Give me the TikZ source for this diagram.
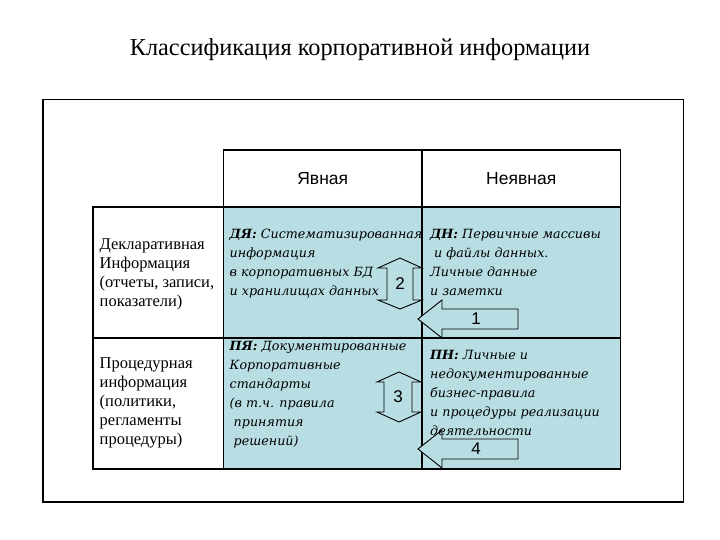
\documentclass[tikz,border=0pt]{standalone}
\usepackage{fontspec}
\setmainfont{Liberation Serif}
\setsansfont{Liberation Sans}
\newfontfamily\notefont{DejaVu Serif}
\usetikzlibrary{positioning,calc}
\definecolor{kiblue}{HTML}{B8DEE3}
\definecolor{kiink}{HTML}{000000}
\tikzset{
  hcell/.style={rectangle,draw=kiink,line width=1.2pt,fill=white,minimum width=198.5pt,
                minimum height=57pt,inner sep=0pt,outer sep=0pt,
                font=\sffamily\fontsize{17.5}{20}\selectfont,text=kiink},
  rcell/.style={rectangle,draw=kiink,line width=1.2pt,fill=white,minimum width=130.5pt,
                minimum height=131pt,inner sep=0pt,outer sep=0pt},
  bcell/.style={rectangle,draw=kiink,line width=1.2pt,fill=kiblue,minimum width=198.5pt,
                minimum height=131pt,inner sep=0pt,outer sep=0pt},
  rowtxt/.style={inner sep=0pt,align=left,font=\fontsize{16.5}{19}\selectfont,text=kiink},
  entry/.style={inner sep=0pt,align=left,font=\notefont\itshape\fontsize{12.7}{19}\selectfont,text=kiink},
  blk/.style={draw=kiink,line width=0.9pt,fill=kiblue,line join=miter},
  num/.style={inner sep=0pt,font=\sffamily\fontsize{17}{20}\selectfont,text=kiink},
}

\begin{document}
\begin{tikzpicture}[x=1pt,y=-1pt,
  title/.style={font=\fontsize{24.3}{28}\selectfont,text=kiink}]
  \useasboundingbox (0,0) rectangle (720,540);
  \node[title] (ttl) at (360,50) {Классификация корпоративной информации};
  \draw[kiink,line width=1.4pt] (43,99.5) rectangle (683.3,502);
  % table
  \node[hcell] (hy) at (322.75,178.5) {Явная};
  \node[hcell] (hn) at (521.25,178.5) {Неявная};
  \node[rcell] (rd) at (158.25,272.5) {};
  \node[rcell] (rp) at (158.25,403.5) {};
  \foreach \nm/\cx/\cy in {dy/322.75/272.5, dn/521.25/272.5, py/322.75/403.5, pn/521.25/403.5}{
     \node[bcell] (\nm) at (\cx,\cy) {};
  }
  % block arrows
  \draw[blk] (418,319) -- (442,300) -- (442,309) -- (518,309) -- (518,329) -- (442,329) -- (442,338) -- cycle;
  \draw[blk] (418,449) -- (442,430) -- (442,439) -- (518,439) -- (518,459) -- (442,459) -- (442,468) -- cycle;
  \draw[blk] (400,258) -- (378,268) -- (387,268) -- (387,300) -- (378,300) -- (400,309)
             -- (422,300) -- (413,300) -- (413,268) -- (422,268) -- cycle;
  \draw[blk] (399,372) -- (377,382) -- (384,382) -- (384,412) -- (377,412) -- (399,422)
             -- (421,412) -- (412,412) -- (412,382) -- (421,382) -- cycle;
  \node[num] (n1) at (476,319) {1};
  \node[num] (n2) at (400,284) {2};
  \node[num] (n3) at (398,397) {3};
  \node[num] (n4) at (476,449) {4};
  % texts
  \node[rowtxt,anchor=west] (trd) at ([xshift=6.5pt,yshift=-2pt]rd.west)
       {Декларативная\\Информация\\(отчеты, записи,\\показатели)};
  \node[rowtxt,anchor=west] (trp) at ([xshift=6.5pt,yshift=1pt]rp.west)
       {Процедурная\\информация\\(политики,\\регламенты\\процедуры)};
  \node[entry,anchor=north west] (tdy) at ([xshift=6pt,yshift=-22pt]dy.north west)
       {\textbf{ДЯ:} Систематизированная\\информация\\в корпоративных БД\\и хранилищах данных};
  \node[entry,anchor=north west] (tdn) at ([xshift=8pt,yshift=-22pt]dn.north west)
       {\textbf{ДН:} Первичные массивы\\\ и файлы данных.\\Личные данные\\и заметки};
  \node[entry,anchor=north west] (tpy) at ([xshift=6pt,yshift=-3pt]py.north west)
       {\textbf{ПЯ:} Документированные\\Корпоративные\\стандарты\\(в т.ч. правила\\\ принятия\\\ решений)};
  \node[entry,anchor=north west] (tpn) at ([xshift=8pt,yshift=-12pt]pn.north west)
       {\textbf{ПН:} Личные и\\недокументированные\\бизнес-правила\\и процедуры реализации\\деятельности};
\end{tikzpicture}
\end{document}
